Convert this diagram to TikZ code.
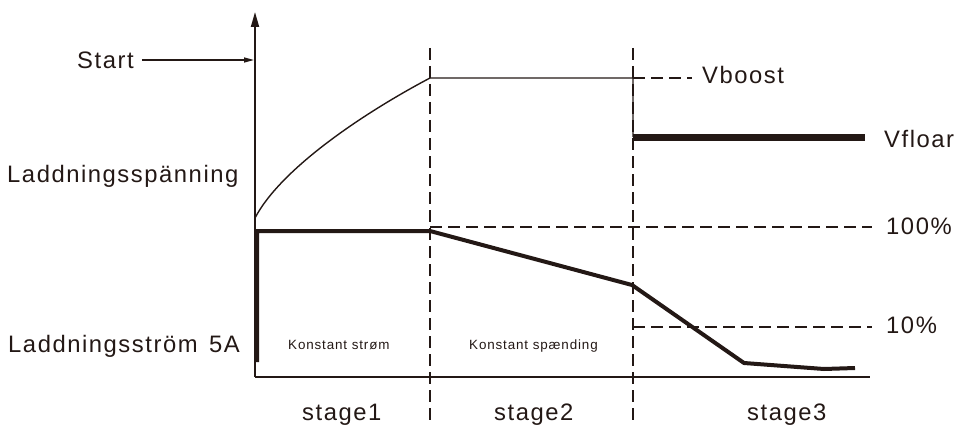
\documentclass[tikz,border=0pt]{standalone}
\usepackage{fontspec}
\setmainfont{Liberation Sans}[LetterSpace=6.5]
\usetikzlibrary{arrows.meta}
\definecolor{ink}{RGB}{35,24,21}
\tikzset{
  lbl/.style={anchor=base west,inner sep=0pt,text=ink,font=\fontsize{23.8}{24}\selectfont},
  small/.style={anchor=base west,inner sep=0pt,text=ink,font=\fontsize{13.4}{14}\selectfont},
  thinline/.style={draw=ink,line width=1.4pt},
  axisline/.style={draw=ink,line width=1.8pt},
  thickline/.style={draw=ink,line width=4pt,line join=miter},
  floatline/.style={draw=ink,line width=7pt},
  guide/.style={draw=ink,line width=1.1pt,dash pattern=on 12pt off 6pt},
}
\begin{document}
\begin{tikzpicture}[x=1pt,y=-1pt]
\useasboundingbox (0,0) rectangle (955,425);
% key points
\coordinate (O) at (255,377);
\coordinate (ytop) at (255,12);
\coordinate (xend) at (870,377);
\coordinate (startTip) at (254,60);
\coordinate (v0) at (255,218);
\coordinate (v1) at (430,78);
\coordinate (v2) at (633,78);
\coordinate (v3) at (633,137);
\coordinate (v4) at (865,137);
\coordinate (c0) at (257,362);
\coordinate (c1) at (257,231);
\coordinate (c2) at (430,231);
\coordinate (c3) at (632,285);
\coordinate (c4) at (744,363);
\coordinate (c5) at (824,369);
\coordinate (c6) at (855,368);
\coordinate (d1t) at (430,48);
\coordinate (d1b) at (430,425);
\coordinate (d2t) at (633,48);
\coordinate (d2b) at (633,425);
\coordinate (h100a) at (430,227);
\coordinate (h100b) at (872,227);
\coordinate (h10a) at (633,327);
\coordinate (h10b) at (872,327);
\coordinate (vba) at (633,78);
\coordinate (vbb) at (692,78);
% texts
\node[lbl] (start) at (77,69) {Start};
\node[lbl] (lsp) at (7,182) {Laddningsspänning};
\node[lbl] (lst) at (8,352) {Laddningsström};
\node[lbl] (fiveA) at (209,352) {5A};
\node[small] (ks) at (288,349) {Konstant strøm};
\node[small] (ksp) at (469,349) {Konstant spænding};
\node[lbl] (s1) at (302,420) {stage1};
\node[lbl] (s2) at (494,420) {stage2};
\node[lbl] (s3) at (747,420) {stage3};
\node[lbl] (vboost) at (702,84) {Vboost};
\node[lbl] (vfloar) at (884,147) {Vfloar};
\node[lbl] (p100) at (886,234) {100\%};
\node[lbl] (p10) at (886,333) {10\%};
% guides
\path[guide] (d1t) -- (d1b);
\path[guide] (d2t) -- (d2b);
\path[guide] (h100a) -- (h100b);
\path[guide] (h10a) -- (h10b);
\path[guide] (vba) -- (vbb);
% axes
\path[axisline,-{Triangle[length=15pt,width=8pt]}] (O) -- (ytop);
\path[axisline] (O) -- (xend);
\path[thinline,-{Triangle[length=10pt,width=5pt]}] ([xshift=8pt]start.east |- startTip) -- (startTip);
% voltage
\path[thinline] (v0) .. controls (280,170) and (360,115) .. (v1) -- (v2) -- (v3);
\path[floatline] (v3) -- (v4);
% current
\path[thickline] (c0) -- (c1) -- (c2) -- (c3) -- (c4) -- (c5) -- (c6);
\end{tikzpicture}
\end{document}
